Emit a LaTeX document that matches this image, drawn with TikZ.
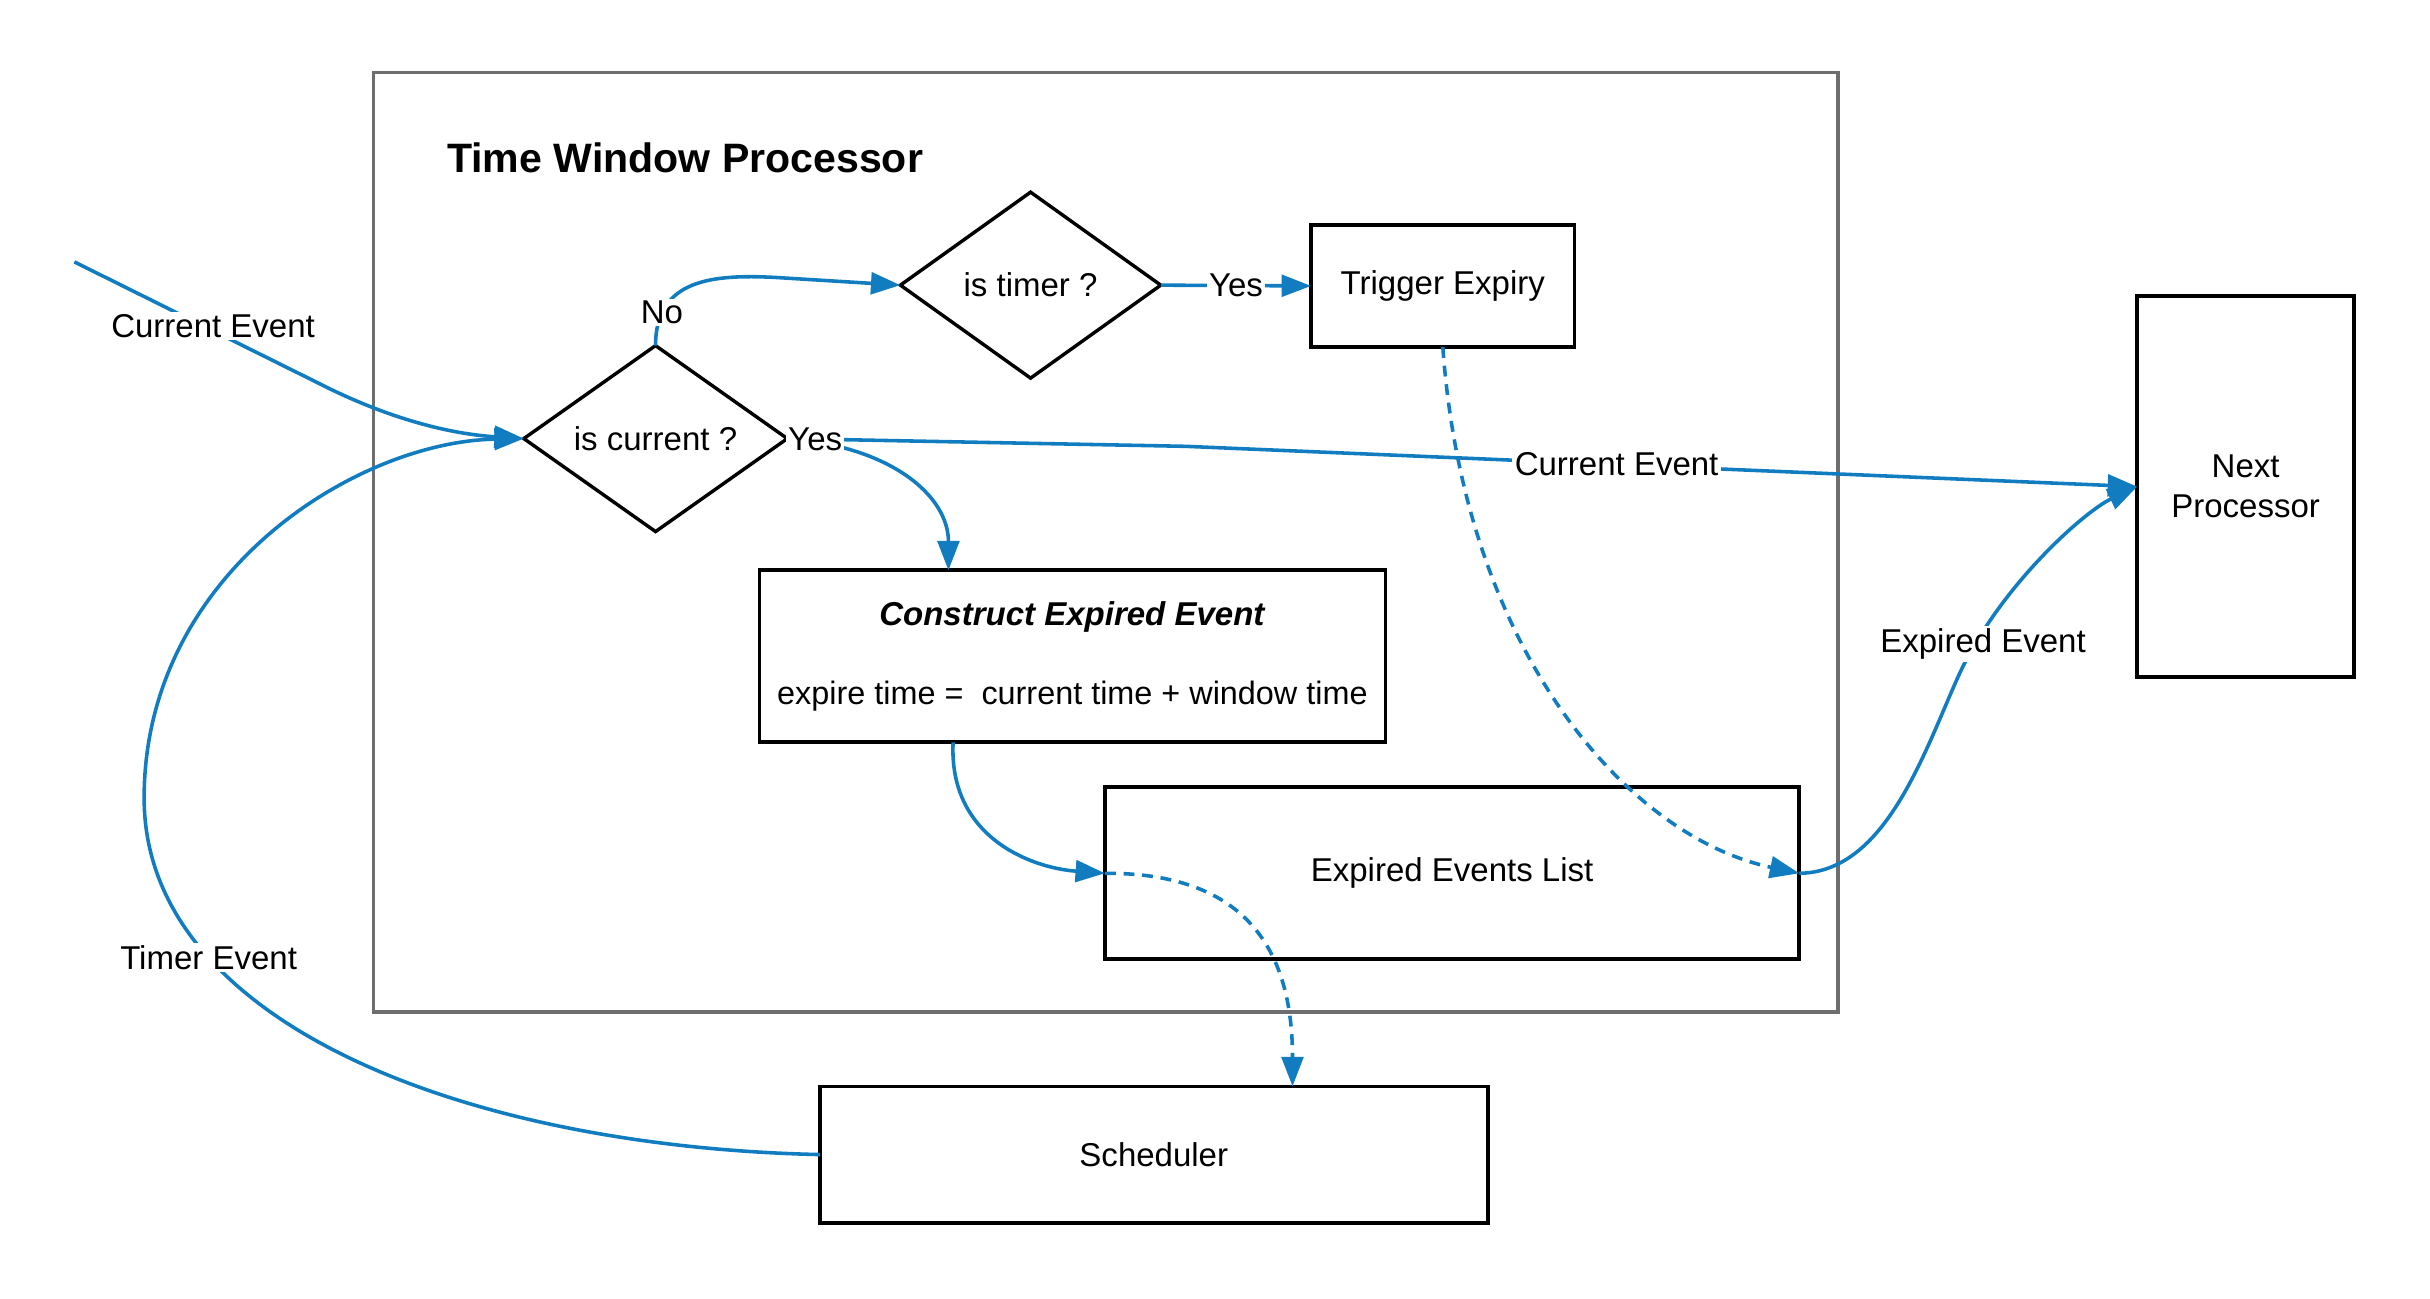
\documentclass[tikz,border=0pt]{standalone}
\usepackage{fontspec}
\setmainfont{Liberation Sans}
\usetikzlibrary{shapes.geometric,arrows.meta,calc}
\definecolor{flow}{RGB}{17,125,192}
\definecolor{framegray}{RGB}{110,110,110}
\begin{document}
\begin{tikzpicture}[x=1pt,y=-1pt,
  every node/.style={font=\fontsize{21.3}{26}\selectfont},
  box/.style={draw=black,line width=2.4pt,rectangle,inner sep=0pt,outer sep=0pt},
  decision/.style={draw=black,line width=2.2pt,diamond,inner sep=0pt,outer sep=0pt,aspect=1.4},
  conn/.style={draw=flow,line width=2.3pt,-{Triangle[length=19pt,width=14pt]}},
  dashconn/.style={conn,dash pattern=on 7pt off 5pt},
  lbl/.style={fill=white,inner sep=1.5pt},
]
\useasboundingbox (0,0) rectangle (1568,837.6);
\node[draw=framegray,line width=2pt,rectangle,inner sep=0pt,outer sep=0pt,minimum width=945pt,minimum height=606pt] (frame) at (713.5,350) {};
\node[anchor=west,font=\bfseries\fontsize{26.5}{32}\selectfont] (title) at (285,102) {Time Window Processor};

\node[decision,minimum width=170pt,minimum height=120pt] (iscur) at (423,283) {is current ?};
\node[decision,minimum width=168pt,minimum height=120pt] (istimer) at (665,184) {is timer ?};
\node[box,minimum width=170pt,minimum height=79pt] (trig) at (931,184.5) {Trigger Expiry};
\node[box,minimum width=140pt,minimum height=246pt,align=center] (next) at (1449,314) {Next\\Processor};
\node[box,minimum width=404pt,minimum height=111pt,align=center] (cons) at (692,423.5) {\textbf{\textit{Construct Expired Event}}\\[25pt]{\fontsize{20.9}{26}\selectfont expire time = \ current time + window time}};
\node[box,minimum width=448pt,minimum height=111pt] (eel) at (937,563.5) {Expired Events List};
\node[box,minimum width=431pt,minimum height=88pt] (sched) at (744.5,745) {Scheduler};

\coordinate (cin) at (48,169);
\coordinate (constop) at ($(cons.north west)+(122,0)$);
\coordinate (consbot) at ($(cons.south west)+(125,0)$);
\coordinate (schedtop) at ($(sched.north west)+(305,0)$);

% incoming current event
\draw[conn] (cin) -- node[lbl,pos=0.57,yshift=3pt]{Current Event} (205,247) .. controls (250,270) and (290,280) .. (iscur.west);
% timer event from scheduler
\draw[conn] (sched.west) .. controls (300,740) and (93,660) .. node[lbl,pos=0.73]{Timer Event} (93,515) .. controls (93,370) and (230,285) .. (iscur.west);
% No branch
\draw[conn] (iscur.north) .. controls (423,180) and (460,177) .. node[lbl,pos=0.2]{No} (500,179) -- (istimer.west);
% is timer yes
\draw[conn] (istimer.east) -- node[lbl]{Yes} (trig.west);
% is current yes -> construct
\draw[conn] (iscur.east) .. controls (575,288) and (612,320) .. (constop);
% is current yes -> next processor
\draw[conn] (iscur.east) -- node[lbl,pos=0.07]{Yes} (765,288) -- node[lbl,pos=0.453]{Current Event} (next.west);
% construct -> expired events list
\draw[conn] (consbot) .. controls (612,540) and (665,560) .. (eel.west);
% expired events list -> scheduler
\draw[dashconn] (eel.west) .. controls (810,563) and (834,620) .. (schedtop);
% trigger expiry -> expired events list
\draw[dashconn] (trig.south) .. controls (945,420) and (1050,540) .. (eel.east);
% expired events list -> next processor
\draw[conn] (eel.east) .. controls (1215,563) and (1240,490) .. (1262,440) .. controls (1288,380) and (1345,330) .. node[lbl,pos=0.14,xshift=5pt]{Expired Event} (next.west);
\end{tikzpicture}
\end{document}
